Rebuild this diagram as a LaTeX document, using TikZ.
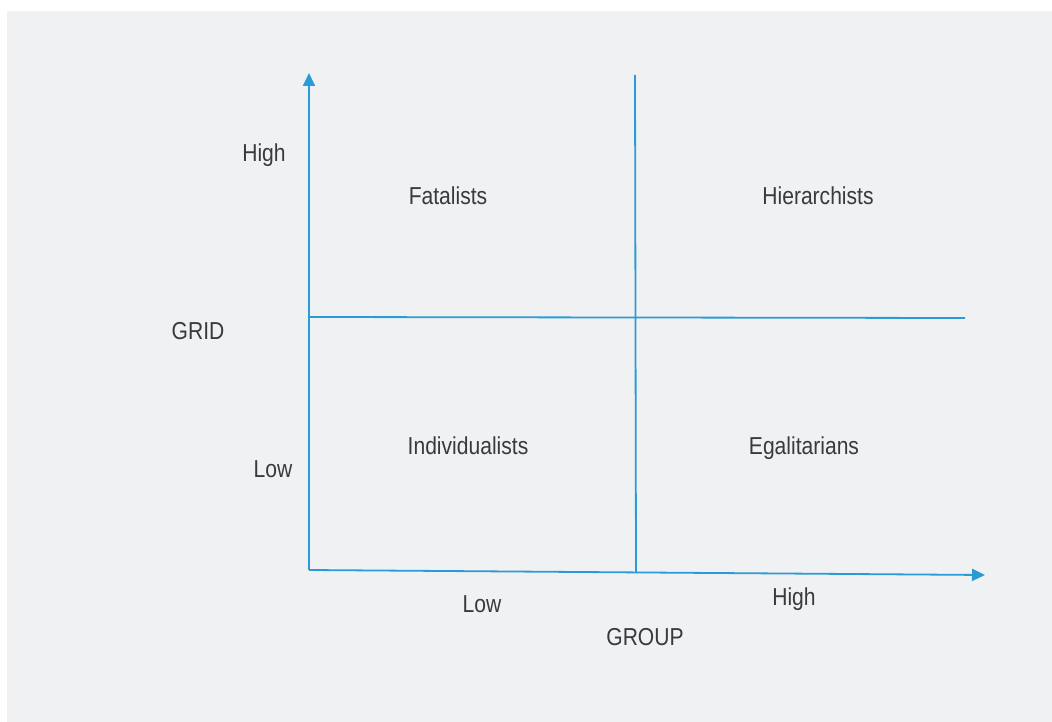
\documentclass[tikz,border=0pt]{standalone}
\usepackage{fontspec}
\setmainfont[FakeStretch=0.86]{Liberation Sans}
\usetikzlibrary{arrows.meta}
\definecolor{bgc}{HTML}{F0F1F3}
\definecolor{axc}{HTML}{2A9BD4}
\definecolor{txc}{HTML}{3A3A3A}
\tikzset{
  axis/.style={draw=axc, line width=1.8pt},
  arr/.style={axis, -{Triangle[length=13pt,width=12pt]}},
  lbl/.style={text=txc, font=\fontsize{24.5}{28}\selectfont, inner sep=0pt, anchor=base},
}
\begin{document}
\begin{tikzpicture}[x=1pt,y=-1pt]
\useasboundingbox (0,0) rectangle (1052,722);
\fill[bgc] (7,11) rectangle (1052,722);
\coordinate (O) at (309,570);
\coordinate (Ytip) at (309,73);
\coordinate (Xtip) at (985,575);
\coordinate (Vt) at (635,75);
\coordinate (Vb) at (636,572);
\coordinate (Hl) at (309,317);
\coordinate (Hr) at (965,318);
\draw[axis] (Vt) -- (Vb);
\draw[axis] (Hl) -- (Hr);
\draw[arr] (O) -- (Ytip);
\draw[arr] (O) -- (Xtip);
\node[lbl] (yhigh) at (264,162) {High};
\node[lbl] (fat) at (448,205) {Fatalists};
\node[lbl] (hier) at (818,205) {Hierarchists};
\node[lbl] (grid) at (198,339) {GRID};
\node[lbl] (ind) at (468,454) {Individualists};
\node[lbl] (ega) at (804,454) {Egalitarians};
\node[lbl] (ylow) at (273,477) {Low};
\node[lbl] (xlow) at (482,612) {Low};
\node[lbl] (xhigh) at (794,605) {High};
\node[lbl] (group) at (645,645) {GROUP};
\end{tikzpicture}
\end{document}
